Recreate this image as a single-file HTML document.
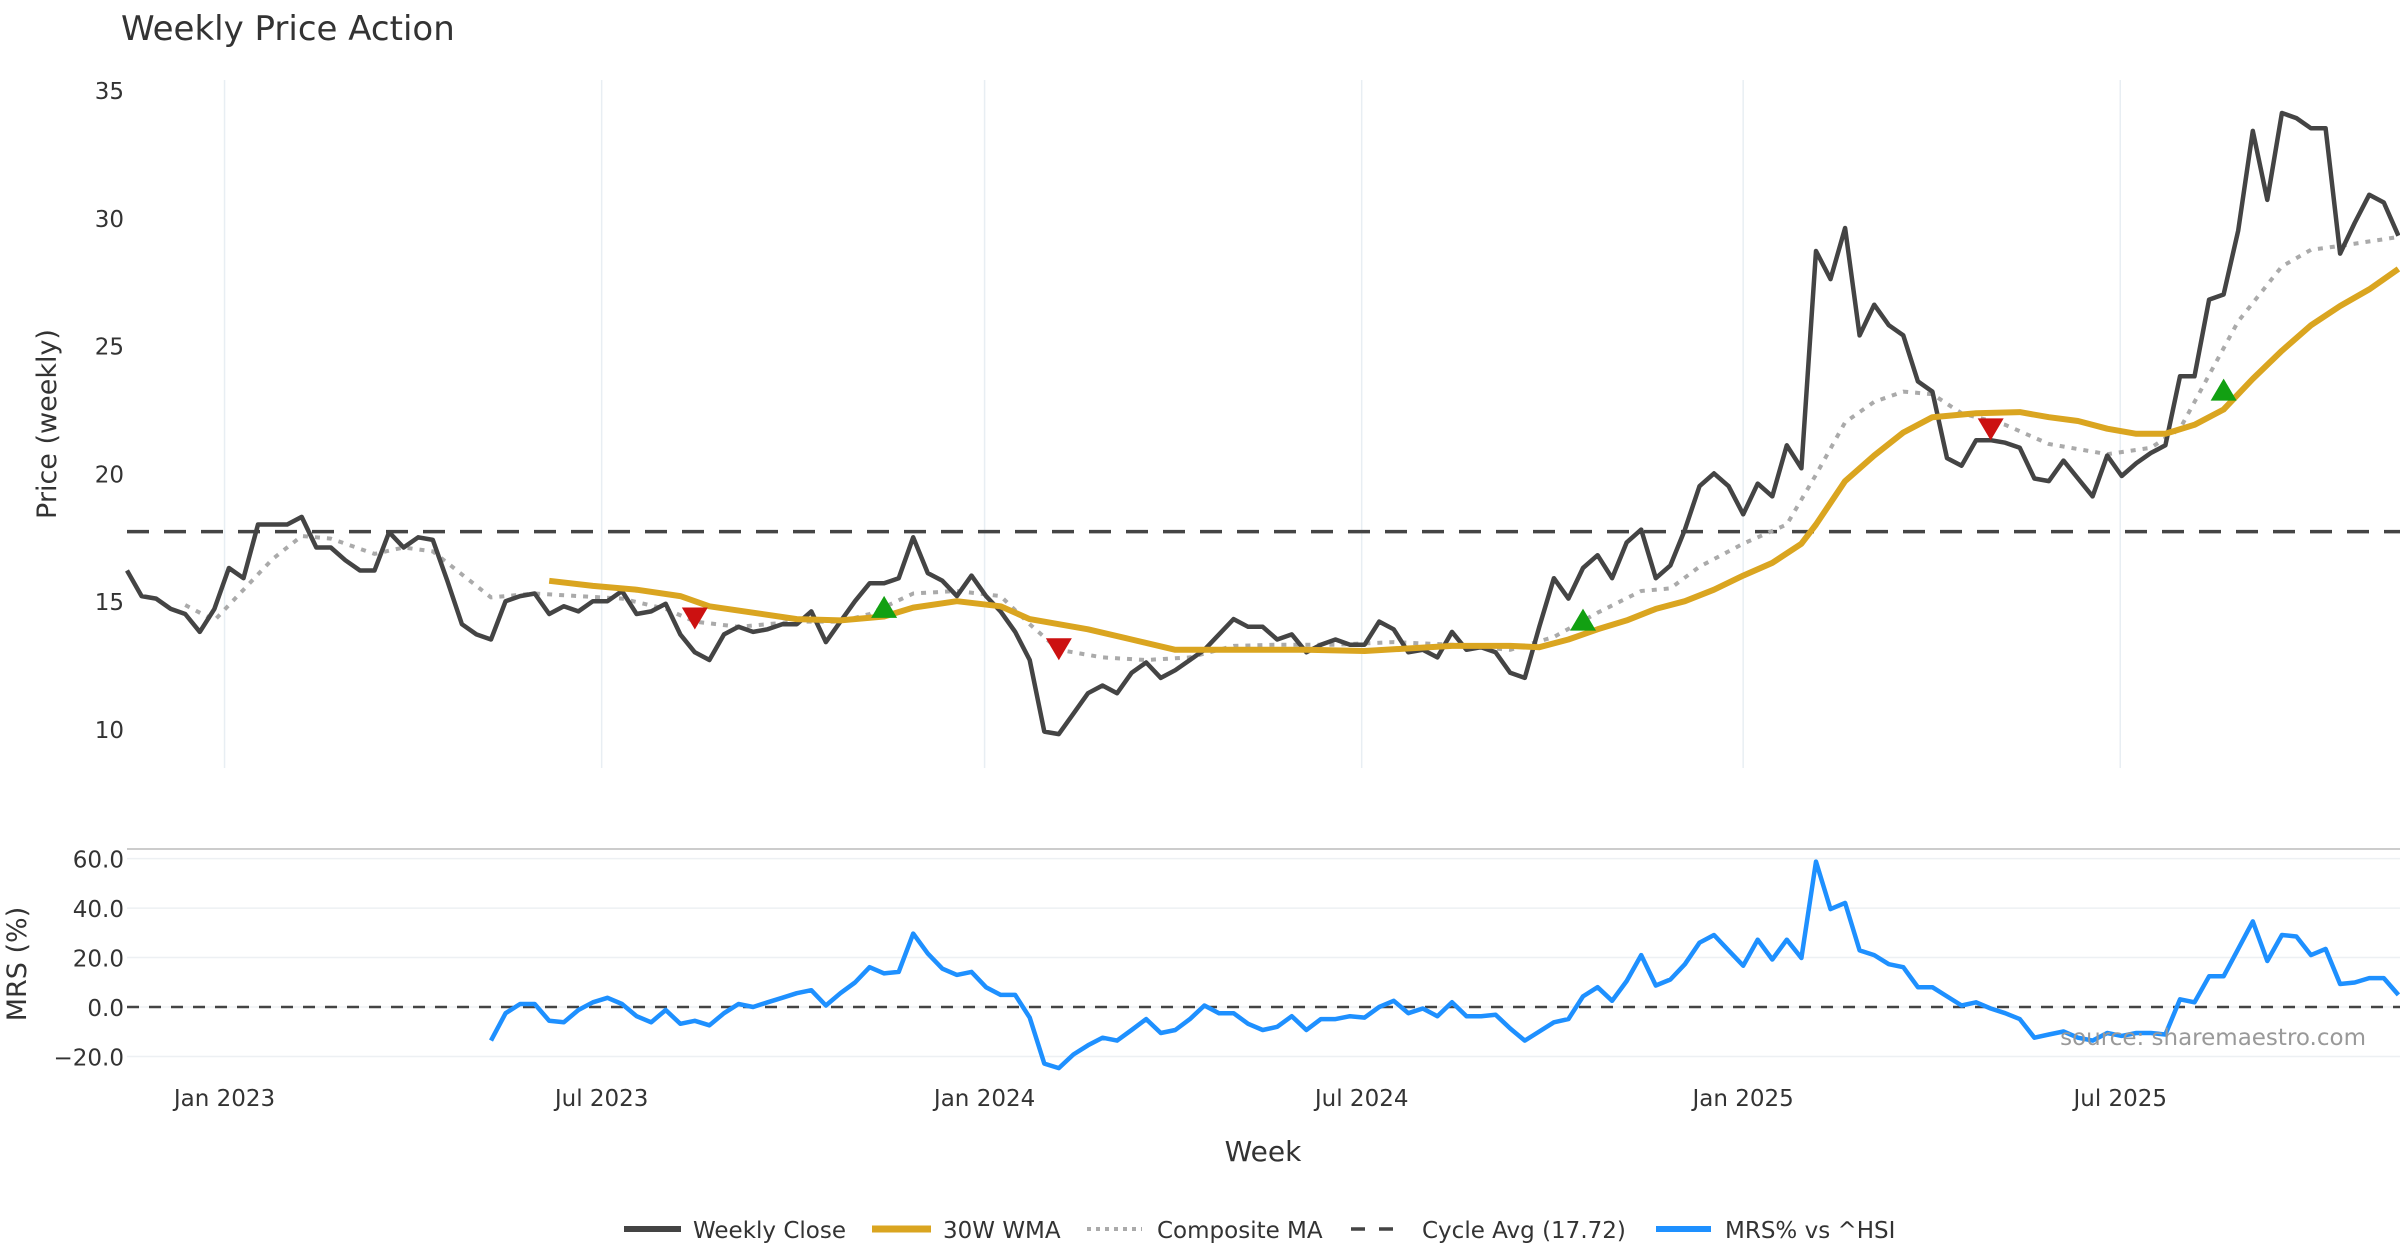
<!DOCTYPE html>
<html><head><meta charset="utf-8">
<style>
html,body{margin:0;padding:0;background:#fff;}
svg{display:block;font-family:"DejaVu Sans","Liberation Sans",sans-serif;}
</style></head>
<body>
<svg id="chart" width="2400" height="1260" viewBox="0 0 2400 1260" xmlns="http://www.w3.org/2000/svg">
<text x="121" y="40" font-size="34" fill="#333">Weekly Price Action</text>
<g id="grid"></g>
<g id="series"></g>
<g id="axes"></g>
<text transform="translate(56,424) rotate(-90)" text-anchor="middle" font-size="27" fill="#333">Price (weekly)</text>
<text transform="translate(26,964) rotate(-90)" text-anchor="middle" font-size="27" fill="#333">MRS (%)</text>
<text x="1263" y="1161" text-anchor="middle" font-size="28" fill="#333">Week</text>
<text x="2366" y="1045" text-anchor="end" font-size="23" fill="#999">source: sharemaestro.com</text>
<g id="legend">
  <line x1="624" y1="1229" x2="681" y2="1229" stroke="#444" stroke-width="6"/>
  <text x="693" y="1238" font-size="23" fill="#333">Weekly Close</text>
  <line x1="872" y1="1229" x2="931" y2="1229" stroke="#DAA520" stroke-width="7"/>
  <text x="943" y="1238" font-size="23" fill="#333">30W WMA</text>
  <line x1="1087" y1="1229" x2="1142" y2="1229" stroke="#aaa" stroke-width="4" stroke-dasharray="4 5"/>
  <text x="1157" y="1238" font-size="23" fill="#333">Composite MA</text>
  <line x1="1351" y1="1229" x2="1405" y2="1229" stroke="#444" stroke-width="3.5" stroke-dasharray="14 14"/>
  <text x="1422" y="1238" font-size="23" fill="#333">Cycle Avg (17.72)</text>
  <line x1="1656" y1="1229" x2="1711" y2="1229" stroke="#1E90FF" stroke-width="6"/>
  <text x="1725" y="1238" font-size="23" fill="#333">MRS% vs ^HSI</text>
</g>
</svg>
<script>
const closeValues=[16.2,15.2,15.1,14.7,14.5,13.8,14.7,16.3,15.9,18.0,18.0,18.0,18.3,17.1,17.1,16.6,16.2,16.2,17.7,17.1,17.5,17.4,15.8,14.1,13.7,13.5,15.0,15.2,15.3,14.5,14.8,14.6,15.0,15.0,15.4,14.5,14.6,14.9,13.7,13.0,12.7,13.7,14.0,13.8,13.9,14.1,14.1,14.6,13.4,14.2,15.0,15.7,15.7,15.9,17.5,16.1,15.8,15.2,16.0,15.2,14.6,13.8,12.7,9.9,9.8,10.6,11.4,11.7,11.4,12.2,12.6,12.0,12.3,12.7,13.1,13.7,14.3,14.0,14.0,13.5,13.7,13.0,13.3,13.5,13.3,13.3,14.2,13.9,13.0,13.1,12.8,13.8,13.1,13.2,13.0,12.2,12.0,14.0,15.9,15.1,16.3,16.8,15.9,17.3,17.8,15.9,16.4,17.8,19.5,20.0,19.5,18.4,19.6,19.1,21.1,20.2,28.7,27.6,29.6,25.4,26.6,25.8,25.4,23.6,23.2,20.6,20.3,21.3,21.3,21.2,21.0,19.8,19.7,20.5,19.8,19.1,20.7,19.9,20.4,20.8,21.1,23.8,23.8,26.8,27.0,29.5,33.4,30.7,34.1,33.9,33.5,33.5,28.6,29.8,30.9,30.6,29.3];
const wmaWeeks=[29,32,35,38,40,43,46,49,52,54,57,60,62,64,66,69,72,75,81,85,91,95,97,99,101,103,105,107,109,111,113,115,116,118,120,122,124,127,130,132,134,136,138,140,142,144,146,148,150,152,154,156];
const wmaValues=[15.8,15.6,15.45,15.2,14.8,14.55,14.3,14.25,14.4,14.75,15.0,14.8,14.3,14.1,13.9,13.5,13.1,13.1,13.1,13.05,13.25,13.25,13.2,13.5,13.9,14.25,14.7,15.0,15.45,16.0,16.5,17.25,18.0,19.7,20.7,21.6,22.2,22.35,22.4,22.2,22.05,21.75,21.55,21.55,21.9,22.5,23.7,24.8,25.8,26.55,27.2,28.0];
const compWeeks=[4,6,8,10,12,14,17,19,21,23,25,28,31,34,37,39,42,46,49,51,54,57,60,62,64,67,70,73,76,79,83,87,91,95,98,101,104,106,108,111,114,116,118,120,122,124,126,129,132,136,139,141,143,145,148,150,152,156];
const compValues=[14.85,14.25,15.45,16.65,17.55,17.45,16.85,17.1,16.95,16.05,15.15,15.3,15.2,15.1,14.7,14.2,14.0,14.2,14.2,14.5,15.3,15.4,15.2,14.1,13.1,12.8,12.7,12.8,13.25,13.3,13.3,13.4,13.3,13.1,13.6,14.55,15.4,15.5,16.35,17.25,18.0,19.95,22.0,22.8,23.2,23.1,22.35,21.9,21.15,20.75,21.0,21.75,23.85,25.95,28.1,28.75,28.9,29.25];
const buyWeeks=[52,100,144];
const buyValues=[14.7,14.2,23.2];
const sellWeeks=[39,64,128];
const sellValues=[14.4,13.2,21.8];
const cycleAvg=17.72;
const mrsStart=25;
const mrsValues=[-13.6,-2.5,1.2,1.2,-5.6,-6.2,-1.2,1.9,3.7,1.2,-3.7,-6.2,-1.2,-6.8,-5.6,-7.4,-2.5,1.2,0,1.9,3.7,5.6,6.8,0.6,5.6,9.9,16.1,13.6,14.2,29.7,21.6,15.5,13.0,14.2,8.0,4.9,4.9,-4.3,-22.9,-24.7,-19.2,-15.5,-12.4,-13.6,-9.3,-4.9,-10.5,-9.3,-4.9,0.6,-2.5,-2.5,-6.8,-9.3,-8.0,-3.7,-9.3,-4.9,-4.9,-3.7,-4.3,0,2.5,-2.5,-0.6,-3.7,1.9,-3.7,-3.7,-3.1,-8.7,-13.6,-9.9,-6.2,-4.9,4.3,8.0,2.5,10.5,21.0,8.7,11.1,17.3,26.0,29.1,22.9,16.7,27.2,19.2,27.2,19.8,58.8,39.6,42.1,22.9,21.0,17.3,16.1,8.0,8.0,4.3,0.6,1.9,-0.6,-2.5,-4.9,-12.4,-11.1,-9.9,-12.4,-13.6,-10.5,-11.7,-10.5,-10.5,-11.1,3.1,1.9,12.4,12.4,23.5,34.6,18.6,29.1,28.5,21.0,23.5,9.3,9.9,11.7,11.7,4.9];
const priceTicks=[10,15,20,25,30,35];
const mrsTicks=[-20,0,20,40,60];
const mrsTickLabels=["\u221220.0","0.0","20.0","40.0","60.0"];
const xTickWeeks=[6.7,32.6,58.9,84.8,111.0,136.9];
const xTickLabels=["Jan 2023","Jul 2023","Jan 2024","Jul 2024","Jan 2025","Jul 2025"];

const NS="http://www.w3.org/2000/svg";
const X0=127, WK=14.56;
function xs(i){return X0+i*WK;}
function yp(v){return 90+(35-v)*25.56;}
function ym(v){return 1007-v*2.473;}
function mk(tag,attrs,parent){const e=document.createElementNS(NS,tag);for(const k in attrs)e.setAttribute(k,attrs[k]);parent.appendChild(e);return e;}
const grid=document.getElementById('grid'),ser=document.getElementById('series'),axes=document.getElementById('axes');

xTickWeeks.forEach((w,i)=>{
  const g=mk('line',{x1:xs(w),x2:xs(w),y1:80,y2:768,stroke:'#e8eef3','stroke-width':1.5},grid);
  
  
  const t=mk('text',{x:xs(w),y:1106,'text-anchor':'middle','font-size':23,fill:'#333'},axes);
  t.textContent=xTickLabels[i];
  
  
});
priceTicks.forEach(v=>{
  const t=mk('text',{x:124,y:yp(v)+9,'text-anchor':'end','font-size':23,fill:'#333'},axes);
  t.textContent=v;
  
  
});
const border=mk('line',{x1:127,x2:2400,y1:849,y2:849,stroke:'#ccc','stroke-width':2},grid);


mrsTicks.forEach((v,i)=>{
  const g=mk('line',{x1:127,x2:2400,y1:ym(v),y2:ym(v),stroke:'#edf0f3','stroke-width':1.5},grid);
  
  
  const t=mk('text',{x:124,y:ym(v)+9,'text-anchor':'end','font-size':23,fill:'#333'},axes);
  t.textContent=mrsTickLabels[i];
  
  
});
const zl=mk('line',{x1:127,x2:2400,y1:ym(0),y2:ym(0),stroke:'#444','stroke-width':2.5,'stroke-dasharray':'12 10'},ser);



const cy=mk('line',{x1:127,x2:2400,y1:yp(cycleAvg),y2:yp(cycleAvg),stroke:'#444','stroke-width':3.5,'stroke-dasharray':'22 15'},ser);



function pts(ws,vs,yf){return vs.map((v,i)=>xs(ws[i]).toFixed(1)+','+yf(v).toFixed(1)).join(' ');}
const cw=mk('polyline',{points:pts(compWeeks,compValues,yp),fill:'none',stroke:'#aaa','stroke-width':4,'stroke-dasharray':'5 7','stroke-linejoin':'round'},ser);


const closeWeeks=closeValues.map((v,i)=>i);
const cl=mk('polyline',{points:pts(closeWeeks,closeValues,yp),fill:'none',stroke:'#444','stroke-width':4.5,'stroke-linejoin':'round'},ser);


const wl=mk('polyline',{points:pts(wmaWeeks,wmaValues,yp),fill:'none',stroke:'#DAA520','stroke-width':6,'stroke-linejoin':'round'},ser);


buyWeeks.forEach((w,i)=>{
  const x=xs(w),y=yp(buyValues[i]);
  const p=mk('polygon',{points:`${x-13},${y+9} ${x+13},${y+9} ${x},${y-13}`,fill:'#12a012'},ser);
  
  
});
sellWeeks.forEach((w,i)=>{
  const x=xs(w),y=yp(sellValues[i]);
  const p=mk('polygon',{points:`${x-13},${y-9} ${x+13},${y-9} ${x},${y+13}`,fill:'#cc1111'},ser);
  
  
});
const mrsWeeks=mrsValues.map((v,i)=>mrsStart+i);
const ml=mk('polyline',{points:pts(mrsWeeks,mrsValues,ym),fill:'none',stroke:'#1E90FF','stroke-width':4.5,'stroke-linejoin':'round'},ser);


</script>
</body></html>
